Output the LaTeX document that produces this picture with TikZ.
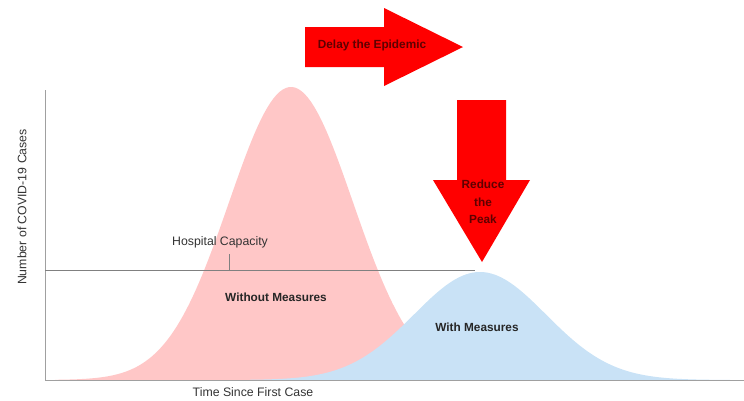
\documentclass[tikz,border=0pt]{standalone}
\usepackage{fontspec}
\setmainfont{Liberation Sans}
\usetikzlibrary{positioning}
\definecolor{rosa}{RGB}{255,199,199}
\definecolor{azzurro}{RGB}{201,226,246}
\definecolor{rossoscuro}{RGB}{95,0,0}
\definecolor{grigio}{RGB}{160,160,160}

\begin{document}
\begin{tikzpicture}[x=1pt,y=-1pt]
\tikzstyle{asse} = [draw=grigio, line width=0.9pt]
\tikzstyle{testo} = [font=\fontsize{12.3}{14}\selectfont, text=black!80, inner sep=0pt]
\tikzstyle{grassetto} = [font=\bfseries\fontsize{11.8}{14}\selectfont, text=black!85, inner sep=0pt]
\tikzstyle{freccia} = [fill=red, draw=none]
\tikzstyle{scritta} = [font=\bfseries\fontsize{11.8}{17.5}\selectfont, text=rossoscuro, inner sep=0pt, align=center]
\useasboundingbox (0,0) rectangle (744,400);
\fill[rosa] plot[domain=55:520, samples=150] (\x, {380-293*exp(-((\x-291)/62)^2/2)}) -- cycle;
\fill[azzurro] plot[domain=250:730, samples=150] (\x, {380-108*exp(-((\x-480)/66)^2/2)}) -- cycle;
\coordinate (ytop) at (45,90);
\coordinate (o) at (45,380);
\coordinate (xend) at (744,380);
\draw[asse] (ytop) -- (o) -- (xend);
\coordinate (c1) at (45,270);
\coordinate (c2) at (475,270);
\coordinate (t1) at (229,270);
\coordinate (t2) at (229,254);
\draw[draw=gray, line width=0.7pt] (c1) -- (c2);
\draw[draw=gray, line width=0.5pt] (t1) -- (t2);
\node[testo] (capacity) at (220,242) {Hospital Capacity};
\node[grassetto] (without) at (276,297) {Without Measures};
\node[grassetto] (with) at (477,327) {With Measures};
\node[testo] (time) at (253,392) {Time Since First Case};
\node[testo, rotate=90] (cases) at (22,207) {Number of COVID-19 Cases};
\fill[freccia] (305,27) -- (384,27) -- (384,8) -- (463,47) -- (384,86) -- (384,67) -- (305,67) -- cycle;
\fill[freccia] (457,100) -- (506,100) -- (506,180) -- (530,180) -- (482,262) -- (433,180) -- (457,180) -- cycle;
\node[scritta] (delay) at (372,45) {Delay the Epidemic};
\node[scritta] (reduce) at (483,202) {Reduce\\the\\Peak};
\end{tikzpicture}
\end{document}
